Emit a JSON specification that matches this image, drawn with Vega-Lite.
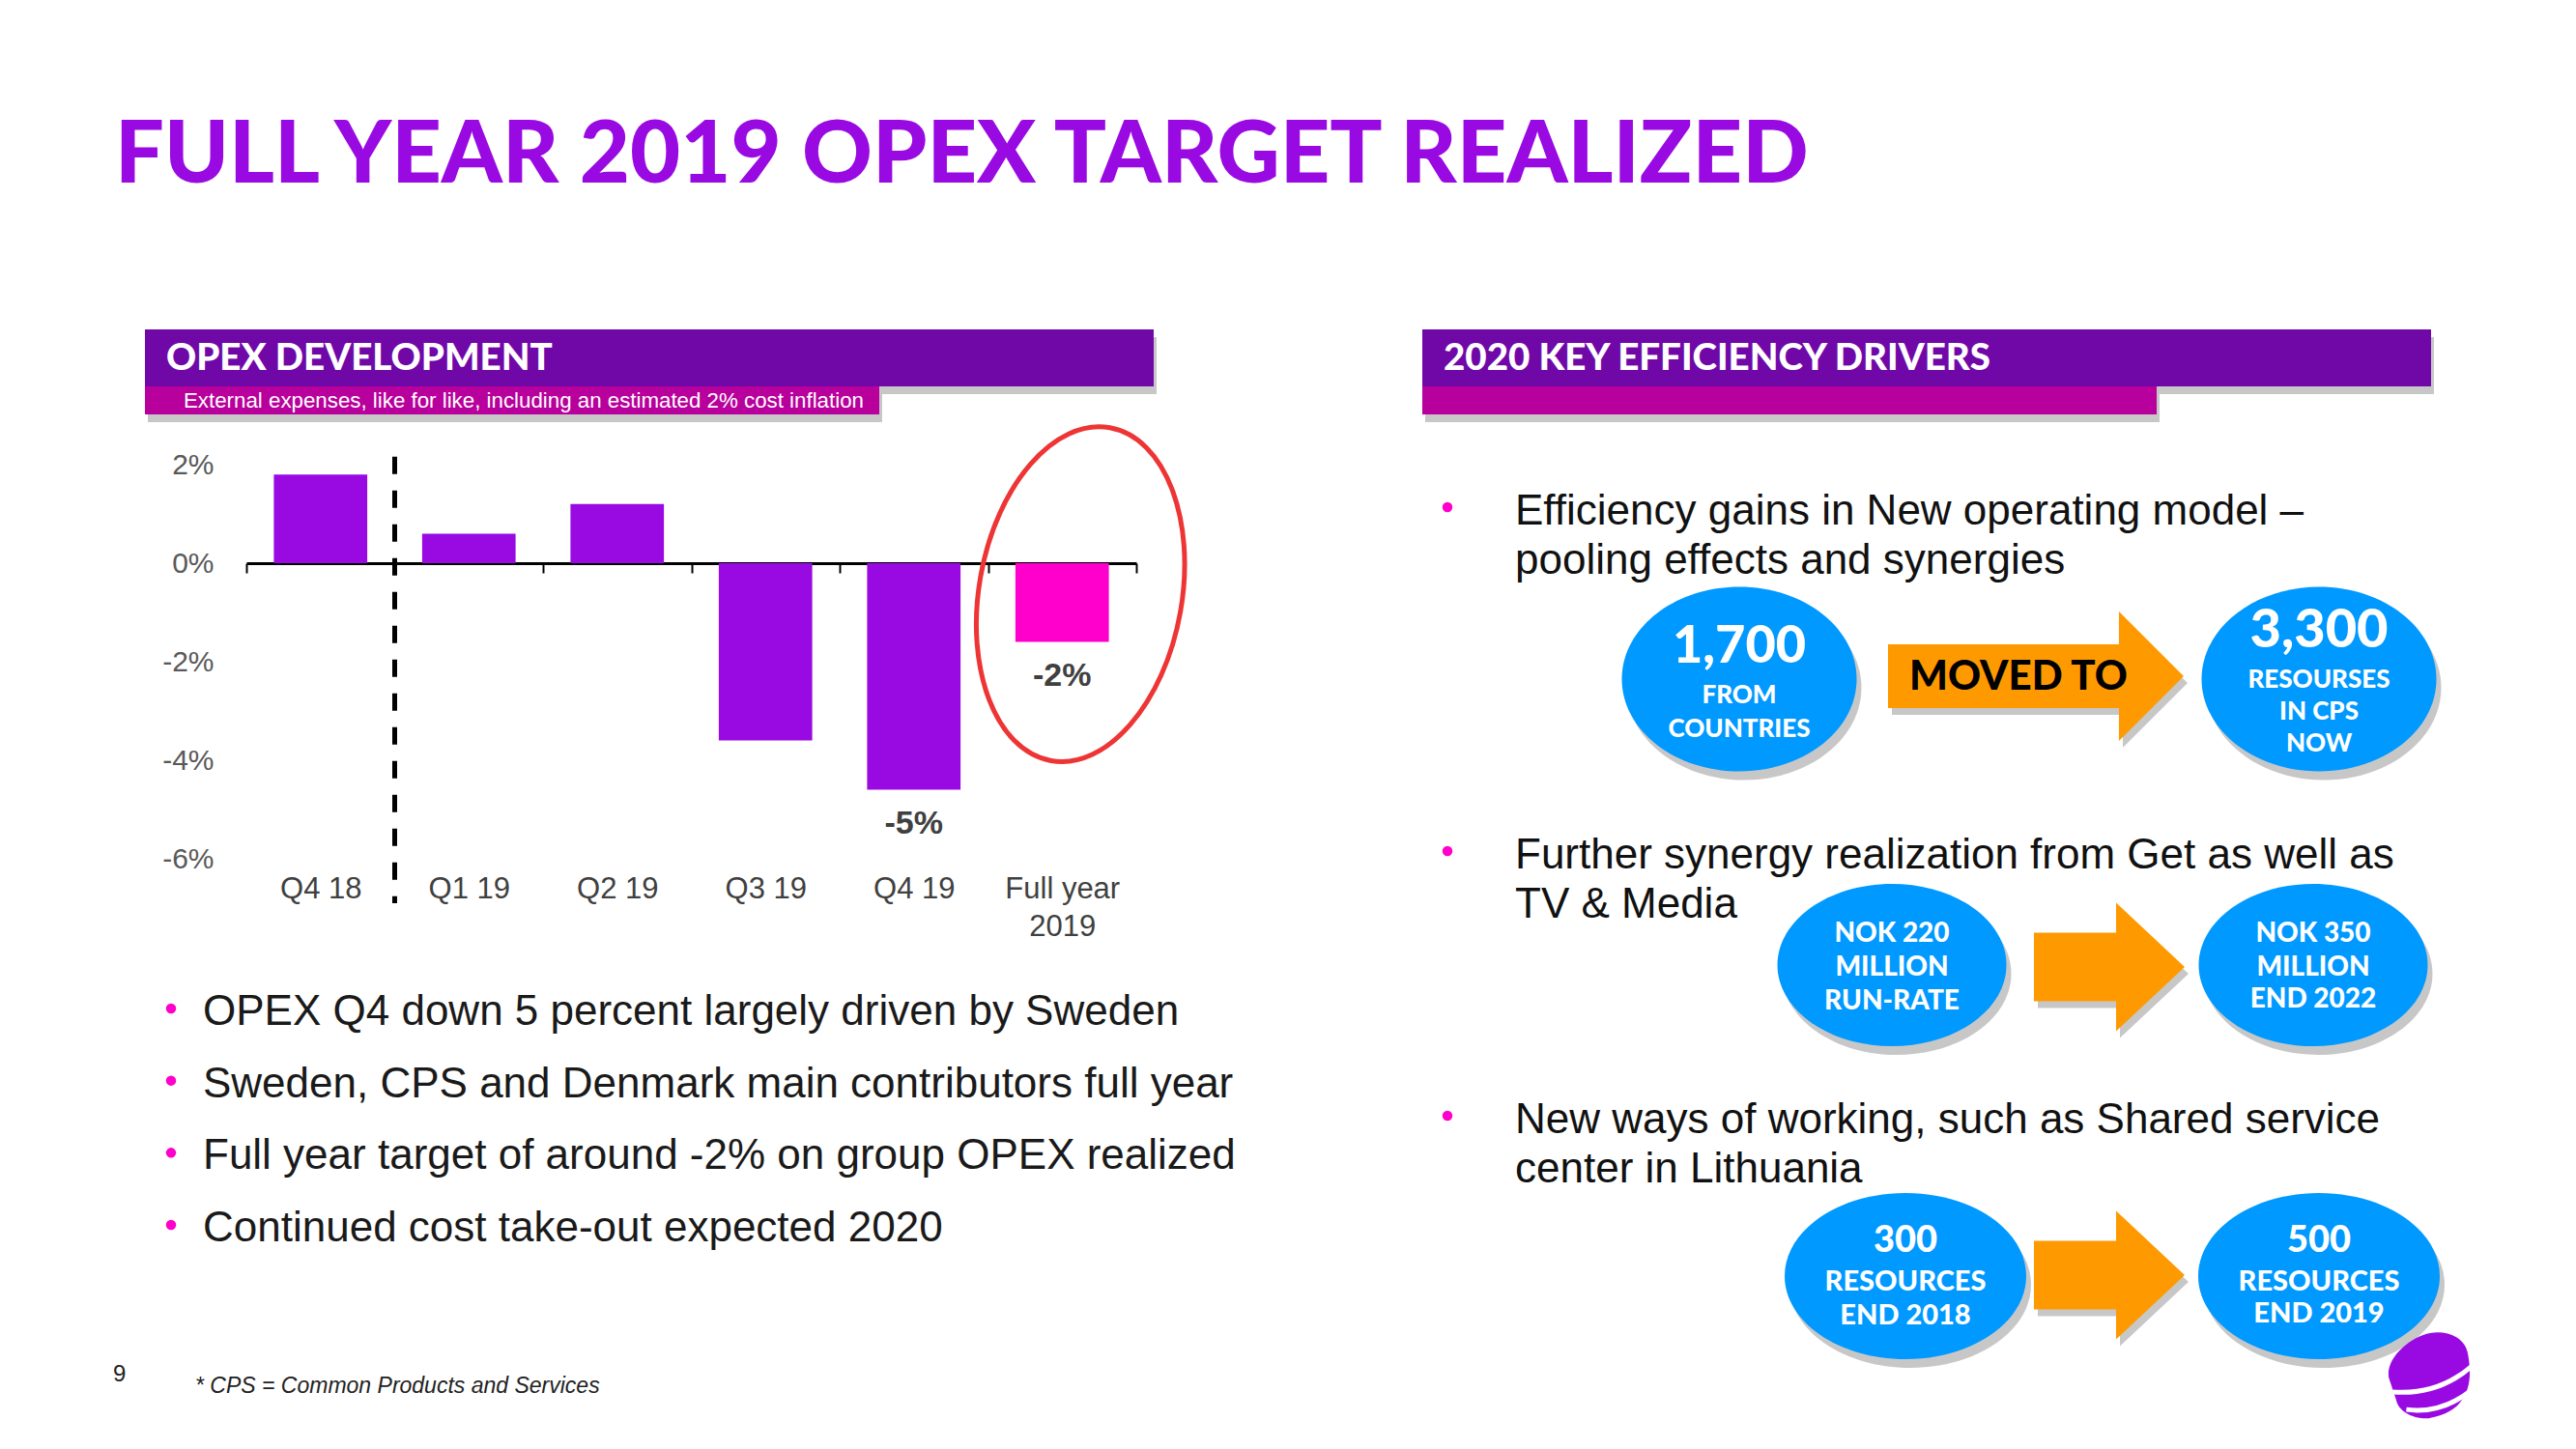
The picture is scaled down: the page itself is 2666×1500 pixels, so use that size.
{
  "$schema": "https://vega.github.io/schema/vega-lite/v6.json",
  "width": 2666,
  "height": 1500,
  "autosize": {"type": "none"},
  "padding": 0,
  "background": "white",
  "config": {"view": {"stroke": null}, "font": "Liberation Sans"},
  "title": {"text": "FULL YEAR 2019 OPEX TARGET REALIZED", "anchor": "start", "frame": "group", "orient": "top", "offset": 0, "dx": 119, "dy": 279, "baseline": "alphabetic", "font": "Lato", "fontSize": 90, "fontWeight": 900, "color": "#990AE3"},
  "datasets": {
    "opex": [
      {"period": "Q4 18", "change": 1.8, "type": "Quarter", "label": null},
      {"period": "Q1 19", "change": 0.6, "type": "Quarter", "label": null},
      {"period": "Q2 19", "change": 1.2, "type": "Quarter", "label": null},
      {"period": "Q3 19", "change": -3.6, "type": "Quarter", "label": null},
      {"period": "Q4 19", "change": -4.6, "type": "Quarter", "label": "-5%"},
      {"period": "Full year 2019", "change": -1.6, "type": "Full year", "label": "-2%"}
    ],
    "panels": [
      {"panel": "left", "tier": "heading", "text": "OPEX DEVELOPMENT"},
      {"panel": "right", "tier": "heading", "text": "2020 KEY EFFICIENCY DRIVERS"},
      {"panel": "left", "tier": "sub", "text": "External expenses, like for like, including an estimated 2% cost inflation"},
      {"panel": "right", "tier": "sub", "text": ""}
    ],
    "summary": [
      {"panel": "left", "item": 1, "text": "OPEX Q4 down 5 percent largely driven by Sweden"},
      {"panel": "left", "item": 2, "text": "Sweden, CPS and Denmark main contributors full year"},
      {"panel": "left", "item": 3, "text": "Full year target of around -2% on group OPEX realized"},
      {"panel": "left", "item": 4, "text": "Continued cost take-out expected 2020"}
    ],
    "drivers": [
      {"panel": "right", "driver": 1, "bullet": ["Efficiency gains in New operating model –", "pooling effects and synergies"], "arrow_label": "MOVED TO"},
      {"panel": "right", "driver": 2, "bullet": ["Further synergy realization from Get as well as", "TV & Media"], "arrow_label": ""},
      {"panel": "right", "driver": 3, "bullet": ["New ways of working, such as Shared service", "center in Lithuania"], "arrow_label": ""}
    ],
    "nodes": [
      {"driver": 1, "stage": "from", "value": "1,700", "detail": ["FROM", "COUNTRIES"]},
      {"driver": 1, "stage": "to", "value": "3,300", "detail": ["RESOURSES", "IN CPS", "NOW"]},
      {"driver": 2, "stage": "from", "value": "NOK 220", "detail": ["MILLION", "RUN-RATE"]},
      {"driver": 2, "stage": "to", "value": "NOK 350", "detail": ["MILLION", "END 2022"]},
      {"driver": 3, "stage": "from", "value": "300", "detail": ["RESOURCES", "END 2018"]},
      {"driver": 3, "stage": "to", "value": "500", "detail": ["RESOURCES", "END 2019"]}
    ],
    "footer": [
      {"part": "page", "text": "9"},
      {"part": "footnote", "text": "* CPS = Common Products and Services"}
    ],
    "brand": [{"brand": "Telia"}]
  },
  "layer": [
    {
      "data": {"name": "panels"},
      "transform": [{"filter": "datum.tier == 'heading'"}],
      "mark": {"type": "rect", "color": "#000000", "opacity": 0.22, "xOffset": 3, "yOffset": 8},
      "encoding": {
        "x": {"field": "panel", "type": "nominal", "scale": {"type": "band", "domain": ["left", "right"], "range": [150, 2516], "paddingInner": 0.2103, "paddingOuter": 0}, "axis": null},
        "y": {"field": "tier", "type": "nominal", "scale": {"type": "band", "domain": ["heading"], "range": [341, 400], "paddingInner": 0, "paddingOuter": 0}, "axis": null}
      }
    },
    {
      "data": {"name": "panels"},
      "transform": [{"filter": "datum.tier == 'sub'"}],
      "mark": {"type": "rect", "color": "#000000", "opacity": 0.22, "xOffset": 3, "yOffset": 8},
      "encoding": {
        "x": {"field": "panel", "type": "nominal", "scale": {"type": "band", "domain": ["left", "right"], "range": [150, 2232], "paddingInner": 0.4251, "paddingOuter": 0}, "axis": null},
        "y": {"field": "tier", "type": "nominal", "scale": {"type": "band", "domain": ["sub"], "range": [400, 429], "paddingInner": 0, "paddingOuter": 0}, "axis": null}
      }
    },
    {
      "data": {"name": "panels"},
      "transform": [{"filter": "datum.tier == 'heading'"}],
      "mark": {"type": "rect", "color": "#7008A8"},
      "encoding": {
        "x": {"field": "panel", "type": "nominal", "scale": {"type": "band", "domain": ["left", "right"], "range": [150, 2516], "paddingInner": 0.2103, "paddingOuter": 0}, "axis": null},
        "y": {"field": "tier", "type": "nominal", "scale": {"type": "band", "domain": ["heading"], "range": [341, 400], "paddingInner": 0, "paddingOuter": 0}, "axis": null}
      }
    },
    {
      "data": {"name": "panels"},
      "transform": [{"filter": "datum.tier == 'sub'"}],
      "mark": {"type": "rect", "color": "#B8009C"},
      "encoding": {
        "x": {"field": "panel", "type": "nominal", "scale": {"type": "band", "domain": ["left", "right"], "range": [150, 2232], "paddingInner": 0.4251, "paddingOuter": 0}, "axis": null},
        "y": {"field": "tier", "type": "nominal", "scale": {"type": "band", "domain": ["sub"], "range": [400, 429], "paddingInner": 0, "paddingOuter": 0}, "axis": null}
      }
    },
    {
      "data": {"name": "panels"},
      "transform": [{"filter": "datum.tier == 'heading'"}],
      "mark": {"type": "text", "align": "left", "baseline": "middle", "dx": 22, "font": "Lato", "fontSize": 38.5, "fontWeight": 900, "color": "#FFFFFF"},
      "encoding": {
        "x": {"field": "panel", "type": "nominal", "bandPosition": 0, "scale": {"type": "band", "domain": ["left", "right"], "range": [150, 2516], "paddingInner": 0.2103, "paddingOuter": 0}, "axis": null},
        "y": {"field": "tier", "type": "nominal", "scale": {"type": "band", "domain": ["heading"], "range": [341, 400], "paddingInner": 0, "paddingOuter": 0}, "axis": null},
        "text": {"field": "text"}
      }
    },
    {
      "data": {"name": "panels"},
      "transform": [{"filter": "datum.tier == 'sub'"}],
      "mark": {"type": "text", "align": "left", "baseline": "middle", "dx": 40, "font": "Liberation Sans", "fontSize": 22.3, "color": "#FFFFFF"},
      "encoding": {
        "x": {"field": "panel", "type": "nominal", "bandPosition": 0, "scale": {"type": "band", "domain": ["left", "right"], "range": [150, 2232], "paddingInner": 0.4251, "paddingOuter": 0}, "axis": null},
        "y": {"field": "tier", "type": "nominal", "scale": {"type": "band", "domain": ["sub"], "range": [400, 429], "paddingInner": 0, "paddingOuter": 0}, "axis": null},
        "text": {"field": "text"}
      }
    },
    {
      "data": {"name": "opex"},
      "encoding": {
        "x": {"field": "period", "type": "nominal", "sort": null,
          "scale": {"type": "band", "domain": ["Q4 18", "Q1 19", "Q2 19", "Q3 19", "Q4 19", "Full year 2019"], "range": [255, 1176], "paddingInner": 0, "paddingOuter": 0},
          "axis": {"orient": "bottom", "offset": -917, "title": null, "domainColor": "#000000", "domainWidth": 3, "tickBand": "extent", "tickColor": "#000000", "tickWidth": 2, "tickSize": 10, "labelAngle": 0, "labelPadding": 312, "labelBaseline": "top", "labelFont": "Liberation Sans", "labelFontSize": 31, "labelColor": "#404040", "labelLineHeight": 39, "labelLimit": 0, "labelExpr": "datum.value == 'Full year 2019' ? ['Full year', '2019'] : datum.label"}},
        "y": {"field": "change", "type": "quantitative",
          "scale": {"domain": [-6, 2], "range": [889, 481], "nice": false, "zero": false},
          "axis": {"orient": "left", "offset": -221, "title": null, "values": [-6, -4, -2, 0, 2], "labelExpr": "datum.value + '%'", "domain": false, "ticks": false, "grid": false, "labelPadding": 0, "labelFont": "Liberation Sans", "labelFontSize": 30, "labelColor": "#595959"}}
      },
      "layer": [
        {
          "mark": {"type": "bar", "width": {"band": 0.63}},
          "encoding": {"color": {"field": "type", "type": "nominal", "scale": {"domain": ["Quarter", "Full year"], "range": ["#990AE3", "#FF00CC"]}, "legend": null}}
        },
        {
          "transform": [{"filter": "datum.label != null"}],
          "mark": {"type": "text", "baseline": "top", "dy": 18, "font": "Liberation Sans", "fontSize": 34, "fontWeight": "bold", "color": "#404040"},
          "encoding": {"text": {"field": "label"}}
        },
        {
          "transform": [{"filter": "datum.period == 'Q1 19'"}],
          "mark": {"type": "rule", "strokeDash": [18, 17], "strokeWidth": 5, "color": "#000000"},
          "encoding": {
            "x": {"field": "period", "type": "nominal", "bandPosition": 0},
            "y": {"datum": 2.16},
            "y2": {"datum": -6.9}
          }
        },
        {
          "transform": [{"filter": "datum.type == 'Full year'"}],
          "mark": {"type": "point", "shape": "M0,-1A0.6,1,0,1,1,0,1A0.6,1,0,1,1,0,-1Z", "size": 122500, "angle": 10, "filled": false, "opacity": 1, "stroke": "#EE3535", "strokeWidth": 5, "xOffset": 19},
          "encoding": {"y": {"datum": -0.63}}
        }
      ]
    },
    {
      "data": {"name": "summary"},
      "mark": {"type": "point", "shape": "circle", "filled": true, "opacity": 1, "size": 110, "color": "#FF00CC", "xOffset": 27},
      "encoding": {
        "x": {"field": "panel", "type": "nominal", "bandPosition": 0, "scale": {"type": "band", "domain": ["left", "right"], "range": [150, 2516], "paddingInner": 0.2103, "paddingOuter": 0}, "axis": null},
        "y": {"field": "item", "type": "quantitative", "scale": {"domain": [1, 4], "range": [1044, 1268], "nice": false, "zero": false}, "axis": null}
      }
    },
    {
      "data": {"name": "summary"},
      "mark": {"type": "text", "align": "left", "baseline": "middle", "dx": 60, "font": "Liberation Sans", "fontSize": 44, "color": "#1A1A1A"},
      "encoding": {
        "x": {"field": "panel", "type": "nominal", "bandPosition": 0, "scale": {"type": "band", "domain": ["left", "right"], "range": [150, 2516], "paddingInner": 0.2103, "paddingOuter": 0}, "axis": null},
        "y": {"field": "item", "type": "quantitative", "scale": {"domain": [1, 4], "range": [1048, 1272], "nice": false, "zero": false}, "axis": null},
        "text": {"field": "text"}
      }
    },
    {
      "data": {"name": "drivers"},
      "mark": {"type": "point", "shape": "circle", "filled": true, "opacity": 1, "size": 110, "color": "#FF00CC", "xOffset": 26},
      "encoding": {
        "x": {"field": "panel", "type": "nominal", "bandPosition": 0, "scale": {"type": "band", "domain": ["left", "right"], "range": [150, 2516], "paddingInner": 0.2103, "paddingOuter": 0}, "axis": null},
        "y": {"field": "driver", "type": "quantitative", "scale": {"domain": [1, 2, 3], "range": [525, 881, 1155], "nice": false, "zero": false}, "axis": null}
      }
    },
    {
      "data": {"name": "drivers"},
      "mark": {"type": "text", "align": "left", "baseline": "middle", "dx": 96, "lineHeight": 51, "font": "Liberation Sans", "fontSize": 44, "color": "#111111"},
      "encoding": {
        "x": {"field": "panel", "type": "nominal", "bandPosition": 0, "scale": {"type": "band", "domain": ["left", "right"], "range": [150, 2516], "paddingInner": 0.2103, "paddingOuter": 0}, "axis": null},
        "y": {"field": "driver", "type": "quantitative", "scale": {"domain": [1, 2, 3], "range": [530, 886, 1160], "nice": false, "zero": false}, "axis": null},
        "text": {"field": "bullet"}
      }
    },
    {
      "data": {"name": "drivers"},
      "mark": {"type": "point", "filled": true, "opacity": 0.22, "color": "#000000", "strokeWidth": 0, "xOffset": 4, "yOffset": 7},
      "encoding": {
        "x": {"field": "driver", "type": "quantitative", "scale": {"domain": [1, 2, 3], "range": [2107, 2183, 2183], "nice": false, "zero": false}, "axis": null},
        "y": {"field": "driver", "type": "quantitative", "scale": {"domain": [1, 2, 3], "range": [700, 1001, 1320], "nice": false, "zero": false}, "axis": null},
        "shape": {"field": "driver", "type": "nominal", "scale": {"domain": [1, 2, 3], "range": ["M-1,-0.216L0.562,-0.216L0.562,-0.438L1,0L0.562,0.438L0.562,0.216L-1,0.216Z", "M-1,-0.455L0.09,-0.455L0.09,-0.853L1,0L0.09,0.853L0.09,0.455L-1,0.455Z", "M-1,-0.455L0.09,-0.455L0.09,-0.853L1,0L0.09,0.853L0.09,0.455L-1,0.455Z"]}, "legend": null},
        "size": {"field": "driver", "type": "quantitative", "scale": {"domain": [1, 2, 3], "range": [93636, 24336, 24336], "zero": false, "nice": false}, "legend": null}
      }
    },
    {
      "data": {"name": "drivers"},
      "mark": {"type": "point", "filled": true, "opacity": 1, "color": "#FF9900", "strokeWidth": 0},
      "encoding": {
        "x": {"field": "driver", "type": "quantitative", "scale": {"domain": [1, 2, 3], "range": [2107, 2183, 2183], "nice": false, "zero": false}, "axis": null},
        "y": {"field": "driver", "type": "quantitative", "scale": {"domain": [1, 2, 3], "range": [700, 1001, 1320], "nice": false, "zero": false}, "axis": null},
        "shape": {"field": "driver", "type": "nominal", "scale": {"domain": [1, 2, 3], "range": ["M-1,-0.216L0.562,-0.216L0.562,-0.438L1,0L0.562,0.438L0.562,0.216L-1,0.216Z", "M-1,-0.455L0.09,-0.455L0.09,-0.853L1,0L0.09,0.853L0.09,0.455L-1,0.455Z", "M-1,-0.455L0.09,-0.455L0.09,-0.853L1,0L0.09,0.853L0.09,0.455L-1,0.455Z"]}, "legend": null},
        "size": {"field": "driver", "type": "quantitative", "scale": {"domain": [1, 2, 3], "range": [93636, 24336, 24336], "zero": false, "nice": false}, "legend": null}
      }
    },
    {
      "data": {"name": "drivers"},
      "transform": [{"filter": "datum.arrow_label != ''"}],
      "mark": {"type": "text", "align": "center", "baseline": "middle", "font": "Lato", "fontSize": 42, "fontWeight": 900, "color": "#000000"},
      "encoding": {
        "x": {"field": "driver", "type": "quantitative", "scale": {"domain": [1, 2, 3], "range": [2089, 2183, 2183], "nice": false, "zero": false}, "axis": null},
        "y": {"field": "driver", "type": "quantitative", "scale": {"domain": [1, 2, 3], "range": [701, 1001, 1320], "nice": false, "zero": false}, "axis": null},
        "text": {"field": "arrow_label"}
      }
    },
    {
      "data": {"name": "nodes"},
      "transform": [{"filter": "datum.stage == 'from'"}],
      "mark": {"type": "point", "filled": true, "opacity": 0.22, "color": "#000000", "strokeWidth": 0, "xOffset": 5, "yOffset": 9},
      "encoding": {
        "x": {"field": "driver", "type": "quantitative", "scale": {"domain": [1, 2, 3], "range": [1800, 1958, 1972], "nice": false, "zero": false}, "axis": null},
        "y": {"field": "driver", "type": "quantitative", "scale": {"domain": [1, 2, 3], "range": [703, 999, 1321], "nice": false, "zero": false}, "axis": null},
        "shape": {"field": "driver", "type": "nominal", "scale": {"domain": [1, 2, 3], "range": ["M-1,0A1,0.786,0,1,1,1,0A1,0.786,0,1,1,-1,0Z", "M-1,0A1,0.709,0,1,1,1,0A1,0.709,0,1,1,-1,0Z", "M-1,0A1,0.688,0,1,1,1,0A1,0.688,0,1,1,-1,0Z"]}, "legend": null},
        "size": {"field": "driver", "type": "quantitative", "scale": {"domain": [1, 2, 3], "range": [59049, 56169, 62500], "zero": false, "nice": false}, "legend": null}
      }
    },
    {
      "data": {"name": "nodes"},
      "transform": [{"filter": "datum.stage == 'to'"}],
      "mark": {"type": "point", "filled": true, "opacity": 0.22, "color": "#000000", "strokeWidth": 0, "xOffset": 5, "yOffset": 9},
      "encoding": {
        "x": {"field": "driver", "type": "quantitative", "scale": {"domain": [1, 2, 3], "range": [2400, 2394, 2400], "nice": false, "zero": false}, "axis": null},
        "y": {"field": "driver", "type": "quantitative", "scale": {"domain": [1, 2, 3], "range": [703, 999, 1321], "nice": false, "zero": false}, "axis": null},
        "shape": {"field": "driver", "type": "nominal", "scale": {"domain": [1, 2, 3], "range": ["M-1,0A1,0.786,0,1,1,1,0A1,0.786,0,1,1,-1,0Z", "M-1,0A1,0.709,0,1,1,1,0A1,0.709,0,1,1,-1,0Z", "M-1,0A1,0.688,0,1,1,1,0A1,0.688,0,1,1,-1,0Z"]}, "legend": null},
        "size": {"field": "driver", "type": "quantitative", "scale": {"domain": [1, 2, 3], "range": [59049, 56169, 62500], "zero": false, "nice": false}, "legend": null}
      }
    },
    {
      "data": {"name": "nodes"},
      "transform": [{"filter": "datum.stage == 'from'"}],
      "mark": {"type": "point", "filled": true, "opacity": 1, "color": "#0099FF", "strokeWidth": 0},
      "encoding": {
        "x": {"field": "driver", "type": "quantitative", "scale": {"domain": [1, 2, 3], "range": [1800, 1958, 1972], "nice": false, "zero": false}, "axis": null},
        "y": {"field": "driver", "type": "quantitative", "scale": {"domain": [1, 2, 3], "range": [703, 999, 1321], "nice": false, "zero": false}, "axis": null},
        "shape": {"field": "driver", "type": "nominal", "scale": {"domain": [1, 2, 3], "range": ["M-1,0A1,0.786,0,1,1,1,0A1,0.786,0,1,1,-1,0Z", "M-1,0A1,0.709,0,1,1,1,0A1,0.709,0,1,1,-1,0Z", "M-1,0A1,0.688,0,1,1,1,0A1,0.688,0,1,1,-1,0Z"]}, "legend": null},
        "size": {"field": "driver", "type": "quantitative", "scale": {"domain": [1, 2, 3], "range": [59049, 56169, 62500], "zero": false, "nice": false}, "legend": null}
      }
    },
    {
      "data": {"name": "nodes"},
      "transform": [{"filter": "datum.stage == 'to'"}],
      "mark": {"type": "point", "filled": true, "opacity": 1, "color": "#0099FF", "strokeWidth": 0},
      "encoding": {
        "x": {"field": "driver", "type": "quantitative", "scale": {"domain": [1, 2, 3], "range": [2400, 2394, 2400], "nice": false, "zero": false}, "axis": null},
        "y": {"field": "driver", "type": "quantitative", "scale": {"domain": [1, 2, 3], "range": [703, 999, 1321], "nice": false, "zero": false}, "axis": null},
        "shape": {"field": "driver", "type": "nominal", "scale": {"domain": [1, 2, 3], "range": ["M-1,0A1,0.786,0,1,1,1,0A1,0.786,0,1,1,-1,0Z", "M-1,0A1,0.709,0,1,1,1,0A1,0.709,0,1,1,-1,0Z", "M-1,0A1,0.688,0,1,1,1,0A1,0.688,0,1,1,-1,0Z"]}, "legend": null},
        "size": {"field": "driver", "type": "quantitative", "scale": {"domain": [1, 2, 3], "range": [59049, 56169, 62500], "zero": false, "nice": false}, "legend": null}
      }
    },
    {
      "data": {"name": "nodes"},
      "transform": [{"filter": "datum.stage == 'from'"}],
      "mark": {"type": "text", "align": "center", "baseline": "middle", "font": "Lato", "fontWeight": 900, "color": "#FFFFFF"},
      "encoding": {
        "x": {"field": "driver", "type": "quantitative", "scale": {"domain": [1, 2, 3], "range": [1800, 1958, 1972], "nice": false, "zero": false}, "axis": null},
        "y": {"field": "driver", "type": "quantitative", "scale": {"domain": [1, 2, 3], "range": [670, 967, 1285], "nice": false, "zero": false}, "axis": null},
        "size": {"field": "driver", "type": "quantitative", "scale": {"domain": [1, 2, 3], "range": [54, 28, 38], "zero": false, "nice": false}, "legend": null},
        "text": {"field": "value"}
      }
    },
    {
      "data": {"name": "nodes"},
      "transform": [{"filter": "datum.stage == 'to'"}],
      "mark": {"type": "text", "align": "center", "baseline": "middle", "font": "Lato", "fontWeight": 900, "color": "#FFFFFF"},
      "encoding": {
        "x": {"field": "driver", "type": "quantitative", "scale": {"domain": [1, 2, 3], "range": [2400, 2394, 2400], "nice": false, "zero": false}, "axis": null},
        "y": {"field": "driver", "type": "quantitative", "scale": {"domain": [1, 2, 3], "range": [653, 967, 1285], "nice": false, "zero": false}, "axis": null},
        "size": {"field": "driver", "type": "quantitative", "scale": {"domain": [1, 2, 3], "range": [56, 28, 38], "zero": false, "nice": false}, "legend": null},
        "text": {"field": "value"}
      }
    },
    {
      "data": {"name": "nodes"},
      "transform": [{"filter": "datum.stage == 'from'"}],
      "mark": {"type": "text", "align": "center", "baseline": "middle", "lineHeight": 35, "font": "Lato", "fontWeight": 900, "color": "#FFFFFF"},
      "encoding": {
        "x": {"field": "driver", "type": "quantitative", "scale": {"domain": [1, 2, 3], "range": [1800, 1958, 1972], "nice": false, "zero": false}, "axis": null},
        "y": {"field": "driver", "type": "quantitative", "scale": {"domain": [1, 2, 3], "range": [719.5, 1001.5, 1326.5], "nice": false, "zero": false}, "axis": null},
        "size": {"field": "driver", "type": "quantitative", "scale": {"domain": [1, 2, 3], "range": [26, 28, 29], "zero": false, "nice": false}, "legend": null},
        "text": {"field": "detail"}
      }
    },
    {
      "data": {"name": "nodes"},
      "transform": [{"filter": "datum.stage == 'to'"}],
      "mark": {"type": "text", "align": "center", "baseline": "middle", "lineHeight": 33, "font": "Lato", "fontWeight": 900, "color": "#FFFFFF"},
      "encoding": {
        "x": {"field": "driver", "type": "quantitative", "scale": {"domain": [1, 2, 3], "range": [2400, 2394, 2400], "nice": false, "zero": false}, "axis": null},
        "y": {"field": "driver", "type": "quantitative", "scale": {"domain": [1, 2, 3], "range": [703.5, 1001.5, 1326.5], "nice": false, "zero": false}, "axis": null},
        "size": {"field": "driver", "type": "quantitative", "scale": {"domain": [1, 2, 3], "range": [26, 28, 29], "zero": false, "nice": false}, "legend": null},
        "text": {"field": "detail"}
      }
    },
    {
      "data": {"name": "footer"},
      "transform": [{"filter": "datum.part == 'page'"}],
      "mark": {"type": "text", "align": "left", "baseline": "middle", "font": "Liberation Sans", "fontSize": 24, "color": "#222222"},
      "encoding": {
        "x": {"field": "part", "type": "nominal", "scale": {"type": "point", "domain": ["page", "footnote"], "range": [117, 202], "padding": 0}, "axis": null},
        "y": {"field": "part", "type": "nominal", "scale": {"type": "point", "domain": ["page", "footnote"], "range": [1423, 1435], "padding": 0}, "axis": null},
        "text": {"field": "text"}
      }
    },
    {
      "data": {"name": "footer"},
      "transform": [{"filter": "datum.part == 'footnote'"}],
      "mark": {"type": "text", "align": "left", "baseline": "middle", "font": "Liberation Sans", "fontSize": 23, "fontStyle": "italic", "color": "#222222"},
      "encoding": {
        "x": {"field": "part", "type": "nominal", "scale": {"type": "point", "domain": ["page", "footnote"], "range": [117, 202], "padding": 0}, "axis": null},
        "y": {"field": "part", "type": "nominal", "scale": {"type": "point", "domain": ["page", "footnote"], "range": [1423, 1435], "padding": 0}, "axis": null},
        "text": {"field": "text"}
      }
    },
    {
      "data": {"name": "brand"},
      "mark": {"type": "point", "filled": true, "opacity": 1, "color": "#990AE3", "strokeWidth": 0, "size": 7511, "angle": -10, "shape": "M-0.98,-0.12C-0.98,-0.6,-0.3,-1,0.18,-1C0.6,-1,0.98,-0.75,0.98,-0.35C0.98,0.1,0.9,0.5,0.6,0.75C0.35,0.98,0,1,-0.21,1C-0.6,0.95,-0.9,0.7,-0.9,0.42Z"},
      "encoding": {
        "x": {"field": "brand", "type": "nominal", "scale": {"type": "point", "domain": ["Telia"], "range": [2515, 2515], "padding": 0}, "axis": null},
        "y": {"field": "brand", "type": "nominal", "scale": {"type": "point", "domain": ["Telia"], "range": [1424, 1424], "padding": 0}, "axis": null}
      }
    },
    {
      "data": {"name": "brand"},
      "mark": {"type": "point", "filled": false, "opacity": 1, "stroke": "#FFFFFF", "strokeWidth": 5, "size": 7511, "angle": -10, "shape": "M-0.95,0.23Q0.1,0.5,1,-0.04M-0.7,0.7Q0.1,0.95,0.9,0.52"},
      "encoding": {
        "x": {"field": "brand", "type": "nominal", "scale": {"type": "point", "domain": ["Telia"], "range": [2515, 2515], "padding": 0}, "axis": null},
        "y": {"field": "brand", "type": "nominal", "scale": {"type": "point", "domain": ["Telia"], "range": [1424, 1424], "padding": 0}, "axis": null}
      }
    }
  ],
  "resolve": {
    "scale": {"x": "independent", "y": "independent", "color": "independent", "shape": "independent", "size": "independent"},
    "axis": {"x": "independent", "y": "independent"}
  }
}
